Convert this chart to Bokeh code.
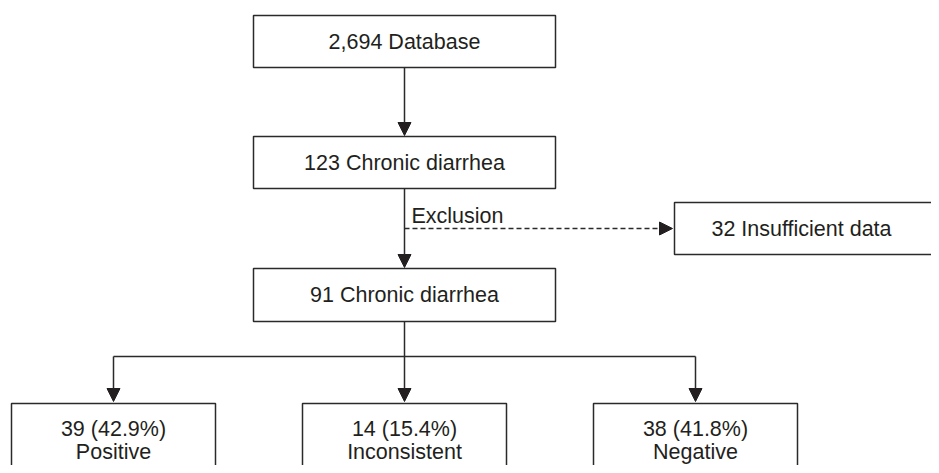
from bokeh.plotting import figure
from bokeh.models import Range1d, Arrow, NormalHead, ColumnDataSource
from bokeh.embed import file_html
from bokeh.resources import INLINE
from bokeh.core.properties import value

# ---- data ----
stage_labels = ["2,694 Database", "123 Chronic diarrhea", "91 Chronic diarrhea"]
excluded_label = "32 Insufficient data"
exclusion_note = "Exclusion"
outcome_counts = [39, 14, 38]
outcome_pct = [42.9, 15.4, 41.8]
outcome_names = ["Positive", "Inconsistent", "Negative"]

# ---- layout (pixel coordinates of the picture, y downwards) ----
W, H = 931, 465
CX = 404
stage_left, stage_right = 253, 555
stage_tops = [15, 136, 268]
stage_bottoms = [67, 188, 321]
ex_left, ex_right, ex_top, ex_bottom = 674, 960, 202, 254
ex_text_x = 801
dash_y = 228
split_y = 356
out_centers = [113, 404, 695]
out_half = 102
out_top = 403
out_bottom = 490
out_text_x = [113, 404, 695]

INK = "#231f20"
LINE = "#2a2a2a"
FONT = "Liberation Sans"
FS = "21.5px"

p = figure(width=W, height=H, output_backend="svg", toolbar_location=None,
           x_range=Range1d(0, W), y_range=Range1d(H, 0),
           min_border=0, outline_line_color=None)
p.axis.visible = False
p.grid.visible = False
p.background_fill_color = "white"
p.border_fill_color = "white"

# connectors
segs = ColumnDataSource(dict(
    x0=[CX, CX, out_centers[0]],
    y0=[stage_bottoms[2], split_y, split_y],
    x1=[CX, CX, out_centers[2]],
    y1=[split_y, split_y, split_y],
))
p.segment("x0", "y0", "x1", "y1", source=segs, line_color=LINE, line_width=1.5)

def arrow(x0, y0, x1, y1, dash="solid"):
    p.add_layout(Arrow(x_start=x0, y_start=y0, x_end=x1, y_end=y1,
                       line_color=LINE, line_width=1.5, line_dash=dash,
                       end=NormalHead(size=13, fill_color=INK, line_color=INK, line_width=1)))

arrow(CX, stage_bottoms[0], CX, stage_tops[1] - 1)
arrow(CX, stage_bottoms[1], CX, stage_tops[2] - 1)
arrow(CX, dash_y, ex_left - 2, dash_y, dash="5 3")
for cx in out_centers:
    arrow(cx, split_y, cx, out_top - 2)

# boxes
boxes = ColumnDataSource(dict(
    left=[stage_left] * 3 + [ex_left] + [c - out_half for c in out_centers],
    right=[stage_right] * 3 + [ex_right] + [c + out_half for c in out_centers],
    top=stage_tops + [ex_top] + [out_top] * 3,
    bottom=stage_bottoms + [ex_bottom] + [out_bottom] * 3,
))
p.quad(left="left", right="right", top="top", bottom="bottom", source=boxes,
       fill_color="white", line_color=LINE, line_width=1.5)

# texts
st = ColumnDataSource(dict(
    x=[CX] * 3 + [ex_text_x],
    y=[(t + b) / 2 for t, b in zip(stage_tops, stage_bottoms)] + [(ex_top + ex_bottom) / 2],
    t=stage_labels + [excluded_label],
))
p.text("x", "y", text="t", source=st, text_font=value(FONT), text_font_size=FS,
       text_color=INK, text_align="center", text_baseline="middle")

p.text(x=[411], y=[215], text=[exclusion_note], text_font=value(FONT), text_font_size=FS,
       text_color=INK, text_align="left", text_baseline="middle")

ot = ColumnDataSource(dict(
    x=out_text_x + out_text_x,
    y=[428] * 3 + [451] * 3,
    t=[f"{n} ({pc:.1f}%)" for n, pc in zip(outcome_counts, outcome_pct)] + outcome_names,
))
p.text("x", "y", text="t", source=ot, text_font=value(FONT), text_font_size=FS,
       text_color=INK, text_align="center", text_baseline="middle")

open("out.html", "w").write(file_html(p, INLINE))
